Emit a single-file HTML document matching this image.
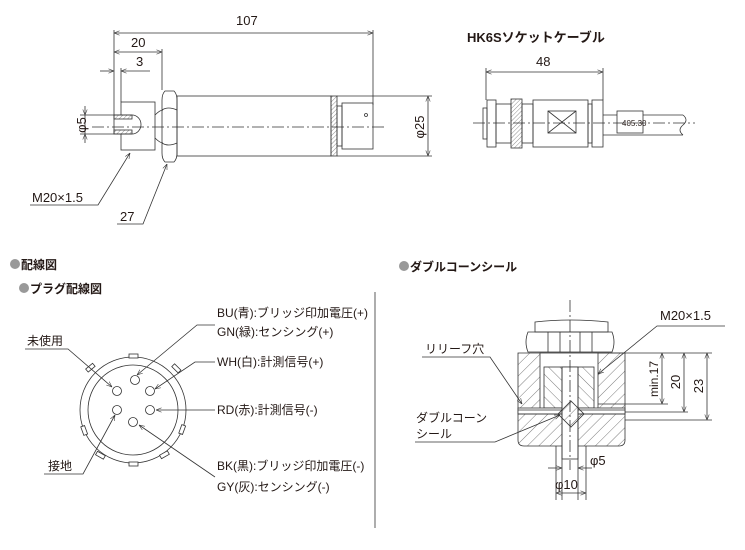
<!DOCTYPE html>
<html><head><meta charset="utf-8"><style>
html,body{margin:0;padding:0;background:#fff;}
svg{display:block;}
text{font-family:"Liberation Sans","Noto Sans CJK JP",sans-serif;fill:#231815;}
</style></head><body>
<svg width="745" height="550" viewBox="0 0 745 550" xmlns="http://www.w3.org/2000/svg">
<defs>
<pattern id="h1" width="8" height="8" patternUnits="userSpaceOnUse" patternTransform="rotate(45)"><line x1="0" y1="0" x2="0" y2="8" stroke="#444" stroke-width="0.7"/></pattern>
<pattern id="h2" width="8" height="8" patternUnits="userSpaceOnUse" patternTransform="rotate(-45)"><line x1="0" y1="0" x2="0" y2="8" stroke="#444" stroke-width="0.7"/></pattern>
<pattern id="h3" width="3" height="3" patternUnits="userSpaceOnUse" patternTransform="rotate(45)"><line x1="0" y1="0" x2="0" y2="3" stroke="#444" stroke-width="0.6"/></pattern>
<marker id="a" viewBox="0 0 10 10" refX="10" refY="5" markerWidth="7" markerHeight="7" orient="auto-start-reverse"><path d="M0,1 L10,5 L0,9" fill="none" stroke="#333" stroke-width="1"/></marker>
</defs>
<g stroke="#333" stroke-width="0.8" fill="none">
<line x1="114" y1="30" x2="114" y2="116"/>
<line x1="162" y1="49" x2="162" y2="90"/>
<line x1="121" y1="68" x2="121" y2="102"/>
<line x1="373" y1="30" x2="373" y2="105"/>
<line x1="114" y1="33" x2="373" y2="33" marker-start="url(#a)" marker-end="url(#a)"/>
<line x1="114" y1="52" x2="162" y2="52" marker-start="url(#a)" marker-end="url(#a)"/>
<line x1="100" y1="71" x2="114" y2="71" marker-end="url(#a)"/>
<line x1="150" y1="71" x2="121" y2="71" marker-end="url(#a)"/>
<line x1="80" y1="115" x2="114" y2="115"/>
<line x1="80" y1="134" x2="114" y2="134"/>
<line x1="85" y1="106" x2="85" y2="115" marker-end="url(#a)"/>
<line x1="85" y1="143" x2="85" y2="134" marker-end="url(#a)"/>
<line x1="85" y1="115" x2="85" y2="134"/>
<rect x="121" y="102" width="34" height="48"/>
<path d="M114,115 H132 A9,9.5 0 0 1 132,134 H114 Z" fill="#fff"/>
<rect x="114" y="115" width="18" height="4" fill="url(#h3)"/>
<rect x="114" y="130" width="18" height="4" fill="url(#h3)"/>
<path d="M155,115 Q160,110 163,110 M155,138 Q160,143 163,143"/>
<path d="M165,91 H174 Q177,94 177,100 V153 Q177,159 174,162 H165 Q162,159 162,153 V100 Q162,94 165,91 Z"/>
<path d="M162,110 Q168,106 177,110 M162,143 Q168,147 177,143"/>
<rect x="177" y="96" width="154" height="60"/>
<rect x="331" y="96" width="6" height="60" fill="url(#h3)"/>
<rect x="337" y="106" width="5" height="40"/>
<rect x="342" y="103" width="31" height="46"/>
<circle cx="366" cy="115" r="1.5"/>
<line x1="337" y1="96" x2="432" y2="96"/>
<line x1="337" y1="156" x2="432" y2="156"/>
<line x1="428" y1="96" x2="428" y2="156" marker-start="url(#a)" marker-end="url(#a)"/>
<line x1="92" y1="127" x2="385" y2="127" stroke-dasharray="12,3,2,3"/>
<polyline points="30,205 98,205 130,153" marker-end="url(#a)"/>
<polyline points="117,224 143,224 167,164" marker-end="url(#a)"/>
<line x1="486" y1="68" x2="486" y2="100"/>
<line x1="603" y1="68" x2="603" y2="100"/>
<line x1="486" y1="72" x2="603" y2="72" marker-start="url(#a)" marker-end="url(#a)"/>
<rect x="483" y="108" width="4" height="31"/>
<rect x="487" y="100" width="9" height="47"/>
<rect x="496" y="104" width="15" height="39"/>
<rect x="511" y="99" width="11" height="49" fill="url(#h3)"/>
<rect x="522" y="104" width="11" height="39"/>
<rect x="533" y="100" width="55" height="47"/>
<rect x="548" y="111" width="28" height="22"/>
<path d="M548,111 L576,133 M576,111 L548,133"/>
<rect x="588" y="104" width="4" height="39"/>
<rect x="592" y="100" width="11" height="47"/>
<path d="M603,115 H683 M603,135 H683 M683,115 Q689,120 683,125 Q677,130 683,135"/>
<rect x="617" y="111" width="26" height="22" fill="#fff"/>
<line x1="473" y1="123" x2="695" y2="123" stroke-dasharray="12,3,2,3"/>
<line x1="375" y1="292" x2="375" y2="528"/>
<circle cx="133" cy="410" r="53"/>
<circle cx="133" cy="410" r="45"/>
<g fill="#fff">
<rect x="129" y="354" width="9" height="4"/>
<rect x="129" y="462" width="9" height="4"/>
<rect x="172" y="366" width="9" height="4" transform="rotate(45 176 368)"/>
<rect x="86" y="366" width="9" height="4" transform="rotate(-40 90 368)"/>
<rect x="80" y="428" width="9" height="4" transform="rotate(70 84 430)"/>
<rect x="178" y="428" width="9" height="4" transform="rotate(-70 182 430)"/>
<rect x="96" y="453" width="9" height="4" transform="rotate(30 100 455)"/>
<rect x="160" y="453" width="9" height="4" transform="rotate(-30 164 455)"/>
</g>
<circle cx="135" cy="380" r="4.5"/>
<circle cx="117" cy="391" r="4.5"/>
<circle cx="150" cy="391" r="4.5"/>
<circle cx="117" cy="410" r="4.5"/>
<circle cx="150" cy="410" r="4.5"/>
<circle cx="133" cy="422" r="4.5"/>
<polyline points="25,349 68,349 112,387" marker-end="url(#a)"/>
<polyline points="215,325 197,325 137,375" marker-end="url(#a)"/>
<polyline points="215,362 195,362 155,389" marker-end="url(#a)"/>
<polyline points="215,410 156,410" marker-end="url(#a)"/>
<polyline points="215,477 139,425" marker-end="url(#a)"/>
<polyline points="44,474 83,474 115,415" marker-end="url(#a)"/>
<path d="M535,322 Q570,318 608,322 V332 H535 Z"/>
<path d="M528,332 H612 Q616,342 612,352 H528 Q524,342 528,332 Z"/>
<path d="M548,332 V352 M592,332 V352 M560,332 V352 M580,332 V352"/>
<path d="M518,353 H625 V440 Q625,446 619,446 H524 Q518,446 518,440 Z" fill="url(#h1)"/>
<rect x="540" y="353" width="58" height="57" fill="#fff"/>
<rect x="544" y="367" width="50" height="41" fill="url(#h2)"/>
<rect x="518" y="408" width="107" height="6" fill="#fff"/>
<line x1="518" y1="410" x2="625" y2="410"/>
<line x1="518" y1="414" x2="625" y2="414"/>
<rect x="562" y="367" width="16" height="92" fill="#fff"/>
<line x1="562" y1="367" x2="562" y2="500"/>
<line x1="578" y1="367" x2="578" y2="500"/>
<path d="M571,401 L584,414 L571,427 L558,414 Z" fill="url(#h1)"/>
<line x1="570" y1="300" x2="570" y2="470" stroke-dasharray="12,3,2,3"/>
<line x1="556" y1="446" x2="556" y2="500"/>
<line x1="586" y1="446" x2="586" y2="500"/>
<line x1="548" y1="468" x2="562" y2="468" marker-end="url(#a)"/>
<line x1="592" y1="468" x2="578" y2="468" marker-end="url(#a)"/>
<line x1="556" y1="493" x2="586" y2="493" marker-start="url(#a)" marker-end="url(#a)"/>
<line x1="598" y1="353" x2="712" y2="353"/>
<line x1="598" y1="404" x2="668" y2="404"/>
<line x1="625" y1="412" x2="688" y2="412"/>
<line x1="625" y1="420" x2="712" y2="420"/>
<line x1="662" y1="353" x2="662" y2="404" marker-start="url(#a)" marker-end="url(#a)"/>
<line x1="684" y1="353" x2="684" y2="412" marker-start="url(#a)" marker-end="url(#a)"/>
<line x1="707" y1="353" x2="707" y2="420" marker-start="url(#a)" marker-end="url(#a)"/>
<polyline points="725,326 657,326 598,374" marker-end="url(#a)"/>
<polyline points="422,357 490,357 522,404" marker-end="url(#a)"/>
<polyline points="415,442 495,442 560,415" marker-end="url(#a)"/>
</g>
<g fill="#999">
<circle cx="15" cy="264" r="5"/>
<circle cx="24" cy="288" r="5"/>
<circle cx="404" cy="266" r="5"/>
</g>
<g font-size="13">
<text x="236" y="25">107</text>
<text x="131" y="47">20</text>
<text x="136" y="66">3</text>
<text x="80" y="131" transform="rotate(-90 80 125)" text-anchor="middle">φ5</text>
<text x="424" y="127" transform="rotate(-90 424 127)" text-anchor="middle">φ25</text>
<text x="32" y="202">M20×1.5</text>
<text x="120" y="221">27</text>
<text x="536" y="66">48</text>
<text x="660" y="320">M20×1.5</text>
<text x="658" y="379" transform="rotate(-90 658 379)" text-anchor="middle" font-size="12">min.17</text>
<text x="680" y="382" transform="rotate(-90 680 382)" text-anchor="middle">20</text>
<text x="703" y="386" transform="rotate(-90 703 386)" text-anchor="middle">23</text>
<text x="590" y="465">φ5</text>
<text x="555" y="489">φ10</text>
</g>
<text x="622" y="126" font-size="8">405.30</text>
<text x="467" y="42" font-size="13" font-weight="bold">HK6Sソケットケーブル</text>
<g font-size="12" font-weight="bold">
<text x="21" y="269">配線図</text>
<text x="30" y="293">プラグ配線図</text>
<text x="410" y="271">ダブルコーンシール</text>
</g>
<g font-size="12">
<text x="217" y="317">BU(青):ブリッジ印加電圧(+)</text>
<text x="217" y="336">GN(緑):センシング(+)</text>
<text x="217" y="366">WH(白):計測信号(+)</text>
<text x="217" y="414">RD(赤):計測信号(-)</text>
<text x="217" y="470">BK(黒):ブリッジ印加電圧(-)</text>
<text x="217" y="491">GY(灰):センシング(-)</text>
<text x="27" y="345">未使用</text>
<text x="48" y="470">接地</text>
<text x="425" y="353">リリーフ穴</text>
<text x="416" y="422">ダブルコーン</text>
<text x="416" y="438">シール</text>
</g>
</svg>
</body></html>
